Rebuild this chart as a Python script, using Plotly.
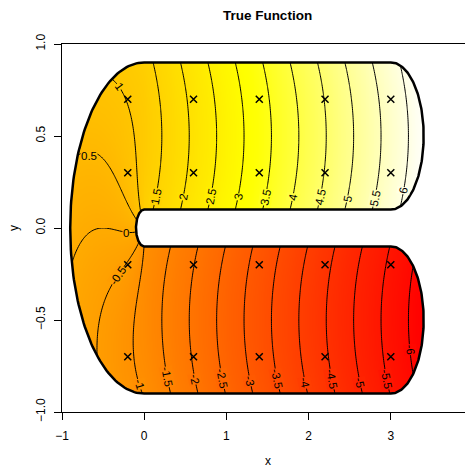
import colorsys

import numpy as np
import plotly.graph_objects as go

FONT = "Liberation Sans, Arial, sans-serif"

# horseshoe test function settings (soap-film style domain)
R0, R, L = 0.1, 0.5, 3.0
SLOPE = 1.5

contour_levels = dict(start=-6, end=6, size=0.5)

# observation points (crosses)
pts_x = [-0.2, 0.6, 1.4, 2.2, 3.0]
pts_y = [0.7, 0.3, -0.2, -0.7]

x_ticks = [-1, 0, 1, 2, 3, 4]
y_ticks = [-1.0, -0.5, 0.0, 0.5, 1.0]
y_ticktext = ["−1.0", "−0.5", "0.0", "0.5", "1.0"]

# contour labels: level, height it sits at, optional fixed x / angle
label_levels = [1, 0.5, 0, -0.5, -1,
                1.5, 2, 2.5, 3, 3.5, 4, 4.5, 5, 5.5, 6,
                -1.5, -2, -2.5, -3, -3.5, -4, -4.5, -5, -5.5, -6]
label_y = [0.77, 0.39, -0.025, -0.26, -0.85,
           0.17, 0.17, 0.17, 0.17, 0.17, 0.17, 0.17, 0.16, 0.16, 0.2,
           -0.81, -0.82, -0.82, -0.83, -0.82, -0.84, -0.82, -0.84, -0.82, -0.66]
label_x = {0.5: -0.67, 0: -0.22}
label_angle = {0.5: 0, 0: 0}


def true_f(x, y, arm=None):
    """along-curve distance * SLOPE + squared distance from centre curve"""
    q = np.pi * R / 2
    upper = (y > 0) if arm is None else np.full(np.shape(y), arm == "up")
    a = np.where(upper, q + x, -q - x)
    d = np.where(upper, y - R, -R - y)
    xs = np.where(x == 0, -1e-9, x)
    a_left = -np.arctan(y / xs) * R
    d_left = np.hypot(x, y) - R
    left = x < 0
    a = np.where(left, a_left, a)
    d = np.where(left, d_left, d)
    return SLOPE * a + d ** 2


def inside(x, y):
    d = np.where(x < 0, np.hypot(x, y) - R, np.abs(y) - R)
    out = (np.abs(d) > R - R0) | ((x > L) & ((x - L) ** 2 + d ** 2 > (R - R0) ** 2))
    return ~out


def boundary(n=60):
    rr = R + (R - R0)
    th = np.linspace(np.pi, np.pi / 2, n)
    bx = list(rr * np.cos(th)); by = list(rr * np.sin(th))
    th = np.linspace(np.pi / 2, -np.pi / 2, 2 * n)
    bx += list((R - R0) * np.cos(th) + L); by += list((R - R0) * np.sin(th) + R)
    th = np.linspace(np.pi / 2, np.pi, n)
    bx += list(R0 * np.cos(th)); by += list(R0 * np.sin(th))
    bx = bx + bx[::-1]
    by = by + [-v for v in by[::-1]]
    return bx, by


def heat_colors(n=100):
    # R heat.colors(n)
    j = n // 4
    i = n - j
    cols = [colorsys.hsv_to_rgb(h, 1, 1) for h in np.linspace(0, 1 / 6, i)]
    cols += [colorsys.hsv_to_rgb(1 / 6, s, 1)
             for s in np.linspace(1 - 1 / (2 * j), 1 / (2 * j), j)]
    return np.array(cols) * 255


HEAT = heat_colors()
HEAT_SCALE = [[k / (len(HEAT) - 1), "rgb(%d,%d,%d)" % tuple(np.round(c))]
              for k, c in enumerate(HEAT)]


def color_at(v, lo, hi):
    t = np.clip((v - lo) / (hi - lo), 0, 1) * (len(HEAT) - 1)
    k = min(int(t), len(HEAT) - 2)
    c = HEAT[k] + (HEAT[k + 1] - HEAT[k]) * (t - k)
    return "rgb(%d,%d,%d)" % tuple(np.round(c))


gx = np.round(np.arange(-1, 4.0001, 0.02), 4)
gy = np.round(np.arange(-1, 1.0001, 0.01), 4)
XX, YY = np.meshgrid(gx, gy)
Z = true_f(XX, YY)
zin = Z[inside(XX, YY)]
zmin, zmax = float(zin.min()), float(zin.max())

gy_up = gy[gy >= 0]
gy_lo = gy[gy <= 0]
XU, YU = np.meshgrid(gx, gy_up)
XL, YL = np.meshgrid(gx, gy_lo)
Z_up = true_f(XU, YU, "up")
Z_lo = true_f(XL, YL, "lo")

bx, by = boundary()

fig = go.Figure()
fig.add_trace(go.Heatmap(
    x=gx, y=gy, z=np.round(Z, 4).tolist(), zmin=zmin, zmax=zmax,
    colorscale=HEAT_SCALE, zsmooth="best", showscale=False, hoverinfo="skip",
))
for zz, yy in [(Z_up, gy_up), (Z_lo, gy_lo)]:
    fig.add_trace(go.Contour(
        x=gx, y=yy, z=np.round(zz, 4).tolist(),
        contours=dict(**contour_levels, coloring="none", showlabels=False),
        line=dict(color="black", width=1), showscale=False, hoverinfo="skip",
    ))

# white mask outside the domain: rectangle joined to the horseshoe by a slit
mx = [-2, -2, 5, 5, -2, -2] + bx + [-2]
my = [0, -2, -2, 2, 2, 0] + by + [0]
fig.add_trace(go.Scatter(
    x=mx, y=my, mode="none", fill="toself", fillcolor="white",
    showlegend=False, hoverinfo="skip",
))
fig.add_trace(go.Scatter(
    x=bx, y=by, mode="lines", line=dict(color="black", width=2.5),
    showlegend=False, hoverinfo="skip",
))
px_, py_ = np.meshgrid(pts_x, pts_y)
fig.add_trace(go.Scatter(
    x=px_.ravel(), y=py_.ravel(), mode="markers",
    marker=dict(symbol="x-thin", size=7, line=dict(color="black", width=1.5)),
    showlegend=False, hoverinfo="skip",
))

# inline contour labels, laid along the line like R's contour()
KX, KY = 411 / 5, 367.7 / 2  # px per data unit
xs = np.arange(-1, 3.5, 0.0005)
labels = []
for lev, ly in zip(label_levels, label_y):
    if lev in label_x:
        lx = label_x[lev]
    else:
        yv = np.full_like(xs, ly)
        err = np.where(inside(xs, yv), np.abs(true_f(xs, yv) - lev), np.inf)
        lx = float(xs[np.argmin(err)])
    if lev in label_angle:
        ang = label_angle[lev]
    else:
        e = 1e-4
        fx = (true_f(lx + e, ly) - true_f(lx - e, ly)) / (2 * e)
        fy = (true_f(lx, ly + e) - true_f(lx, ly - e)) / (2 * e)
        ang = np.degrees(np.arctan2(-fx * KY, -fy * KX))
        if ang > 90:
            ang -= 180
        elif ang <= -90:
            ang += 180
    labels.append(dict(
        x=lx, y=ly, xref="x", yref="y", text="%g" % lev, showarrow=False,
        textangle=float(ang), bgcolor=color_at(lev, zmin, zmax), borderpad=0,
        font=dict(size=11.5, color="black", family=FONT),
    ))

axis_common = dict(
    showgrid=False, zeroline=False, showline=True, automargin=False,
    linecolor="black", linewidth=1, ticks="outside", ticklen=7,
    tickcolor="black", tickfont=dict(size=12, color="black", family=FONT),
)
fig.update_layout(
    width=473, height=476,
    margin=dict(l=54, r=8, t=36, b=72),
    plot_bgcolor="white", paper_bgcolor="white",
    font=dict(family=FONT, color="black"),
    xaxis=dict(range=[-1, 4], tickvals=x_ticks, ticklabelstandoff=6, mirror=True,
               **axis_common),
    yaxis=dict(range=[-1, 1], tickvals=y_ticks, ticktext=y_ticktext, mirror=False,
               tickangle=-90, ticklabelstandoff=4, **axis_common),
    title=dict(text="<b>True Function</b>", x=259.5 / 473, xanchor="center",
               y=1 - 7 / 476, yanchor="middle", font=dict(size=13.5, family=FONT)),
    showlegend=False,
    annotations=labels + [
        dict(text="x", xref="paper", yref="paper", x=0.5, y=0, yshift=-49,
             xanchor="center", yanchor="middle", showarrow=False, font=dict(size=12)),
        dict(text="y", xref="paper", yref="paper", x=0, y=0.5, xshift=-48,
             xanchor="center", yanchor="middle", textangle=-90, showarrow=False,
             font=dict(size=12)),
    ],
)

fig.write_html("out.html")
